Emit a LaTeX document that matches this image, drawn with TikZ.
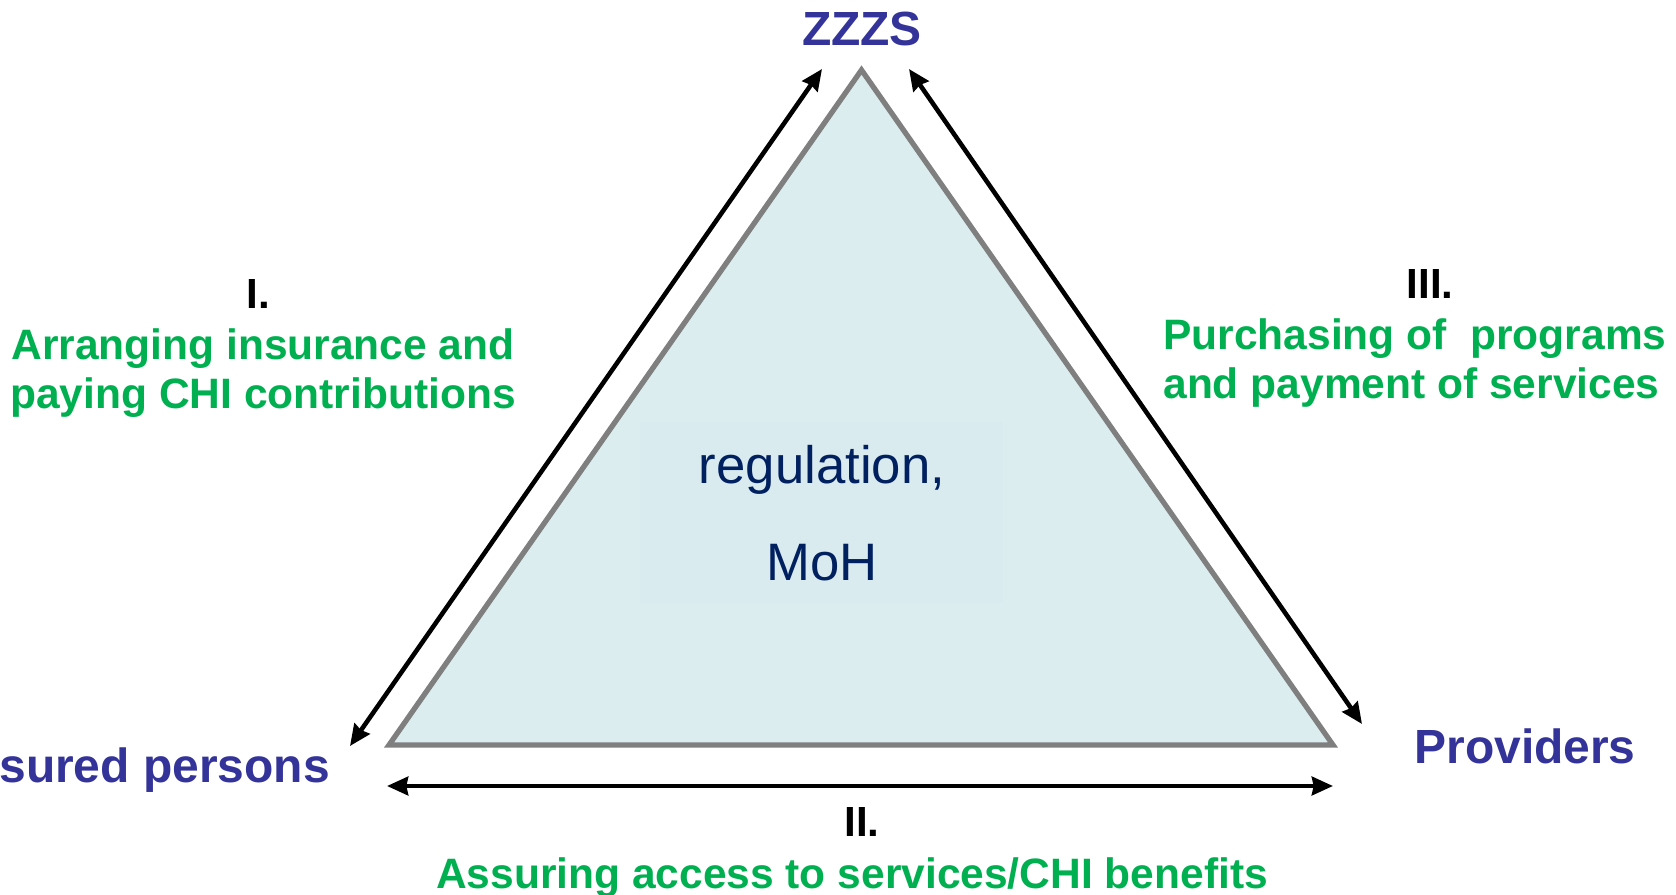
\documentclass[tikz,border=0pt]{standalone}
\usepackage{fontspec}
\setmainfont{Liberation Sans}
\usetikzlibrary{arrows.meta}

\definecolor{partyblue}{HTML}{333399}
\definecolor{rolegreen}{HTML}{00B050}
\definecolor{regnavy}{HTML}{002060}
\definecolor{trifill}{HTML}{DBEDEF}
\definecolor{boxfill}{HTML}{D9EBEE}
\definecolor{triedge}{HTML}{7F7F7F}

\tikzset{
  party/.style={font=\bfseries\fontsize{27.3}{32}\selectfont, text=partyblue, inner sep=0pt},
  numeral/.style={font=\bfseries\fontsize{24}{28}\selectfont, inner sep=0pt},
  role/.style={font=\bfseries\fontsize{24.2}{27.5}\selectfont, text=rolegreen, inner sep=0pt},
  link/.style={{Stealth[length=12pt,width=10.5pt,inset=1pt]}-{Stealth[length=12pt,width=10.5pt,inset=1pt]}, line width=2.6pt},
}

\begin{document}
\begin{tikzpicture}[x=0.02cm,y=-0.02cm]
    \useasboundingbox (0,0) rectangle (1676,895);

    % Triangle of the three parties
    \draw[triedge, fill=trifill, line width=3pt, line join=miter]
        (861.5,70) -- (1333,745) -- (389,745) -- cycle;
    \fill[boxfill] (640,422) rectangle (1003,603);
    \node[font=\fontsize{30}{55}\selectfont, text=regnavy, align=center, inner sep=0pt, anchor=base]
        (moh) at (822,580) {regulation,\\MoH};

    % Define node positions
    \node[party, anchor=base] (zzzs) at (862,46) {ZZZS};
    \node[party, anchor=base west] (insured) at (-1,782) {sured persons};
    \node[party, anchor=base] (providers) at (1525,763) {Providers};

    % Arrow end points
    \coordinate (zzzsL) at (822,69); \coordinate (insTop) at (350,746);
    \coordinate (zzzsR) at (909,69); \coordinate (provTop) at (1362,724);
    \coordinate (insBot) at (387,786); \coordinate (provBot) at (1333,786);

    % Draw arrows
    \draw[link] (zzzsL) -- (insTop);
    \draw[link] (zzzsR) -- (provTop);
    \draw[link] (insBot) -- (provBot);

    % Relation labels
    \node[numeral, anchor=base] (numI) at (258,308) {I.};
    \node[role, align=center, anchor=base] (relI) at (263,408)
        {Arranging insurance and\\paying CHI contributions};
    \node[numeral, anchor=base] (numIII) at (1430,298) {III.};
    \node[role, align=left, anchor=base west] (relIII) at (1163,398)
        {Purchasing of~ programs\\and payment of services};
    \node[numeral, anchor=base] (numII) at (862,836) {II.};
    \node[role, anchor=base] (relII) at (852,888)
        {Assuring access to services/CHI benefits};
\end{tikzpicture}
\end{document}
